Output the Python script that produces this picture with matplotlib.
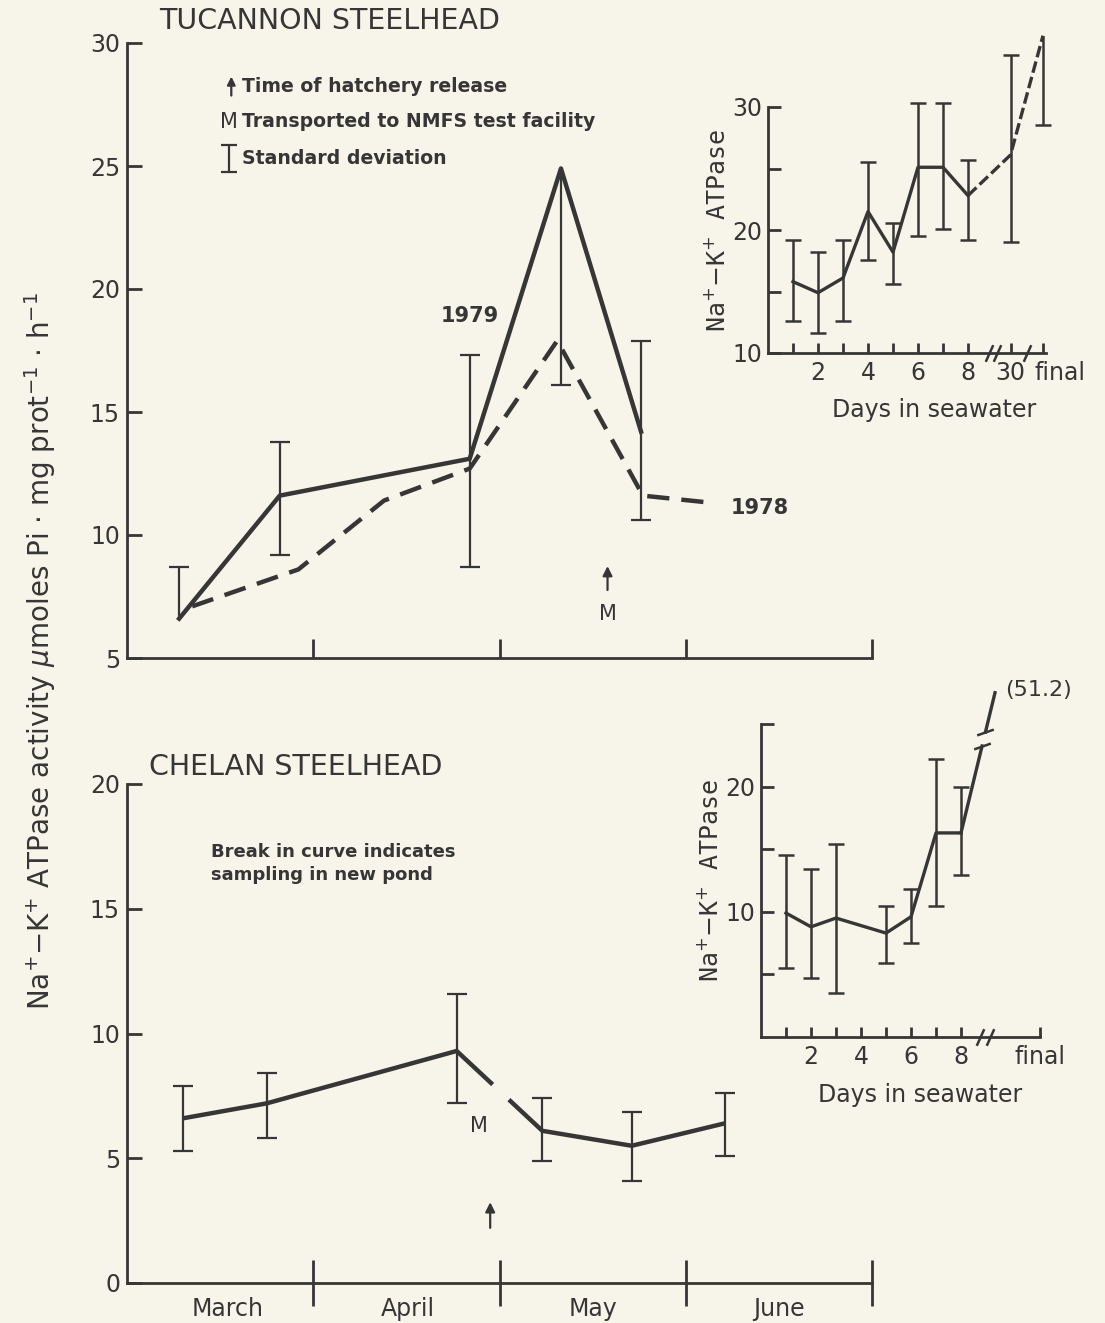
import numpy as np
import matplotlib
matplotlib.use('Agg')
import matplotlib.pyplot as plt
import matplotlib.transforms as mtransforms

plt.rcParams['font.family'] = ['DejaVu Sans']
plt.rcParams['mathtext.fontset'] = 'dejavusans'

# ---- data ----
# main panels: x in months from 1 March (0) to 1 July (4)
months = ['March', 'April', 'May', 'June']

tuc79_x = [0.28, 0.82, 1.84, 2.33, 2.76]
tuc79_y = [6.6, 11.6, 13.1, 24.9, 14.2]
tuc79_lo = [6.6, 9.2, 8.7, 16.1, 10.6]
tuc79_hi = [8.7, 13.8, 17.3, 24.9, 17.9]

tuc78_x = [0.35, 0.92, 1.38, 1.84, 2.31, 2.77, 3.15]
tuc78_y = [7.1, 8.6, 11.4, 12.7, 17.9, 11.6, 11.3]

chel_x = [0.30, 0.75, 1.77, 2.23, 2.71, 3.21]
chel_y = [6.6, 7.2, 9.3, 6.1, 5.5, 6.4]
chel_lo = [5.3, 5.8, 7.2, 4.9, 4.1, 5.1]
chel_hi = [7.9, 8.4, 11.6, 7.4, 6.85, 7.6]
chel_break = 2          # curve broken after this sample (new pond)

release_tuc = 2.58      # hatchery release / transport (M)
release_chel = 1.95

# inset 1 (Tucannon, days in seawater)
ins1_days = [1, 2, 3, 4, 5, 6, 7, 8]
ins1_mean = [15.8, 14.9, 16.1, 21.5, 18.2, 25.1, 25.1, 22.8]
ins1_lo = [12.6, 11.6, 12.6, 17.6, 15.6, 19.5, 20.1, 19.2]
ins1_hi = [19.2, 18.2, 19.2, 25.5, 20.6, 30.3, 30.3, 25.7]
ins1_late_x = [9.7, 11.0]
ins1_late_lab = ['30', 'final']
ins1_late_mean = [26.1, 35.8]
ins1_late_lo = [19.0, 28.5]
ins1_late_hi = [34.2, 35.8]

# inset 2 (Chelan)
ins2_days = [1, 2, 3, 5, 6, 7, 8]
ins2_mean = [9.9, 8.8, 9.5, 8.3, 9.6, 16.3, 16.3]
ins2_lo = [5.5, 4.7, 3.5, 5.9, 7.5, 10.5, 12.9]
ins2_hi = [14.5, 13.4, 15.4, 10.5, 11.8, 22.2, 20.0]
ins2_final_x = 11.16
ins2_final_value = 51.2
ins2_rise_x = [8, 9.36]      # visible part of the line towards the off-scale final value
ins2_rise_y = [16.3, 27.5]

ink = '#363636'
paper = '#f7f4ea'
W, H = 1105, 1323

fig = plt.figure(figsize=(W / 100, H / 100), dpi=100, facecolor=paper)


def px_axes(l, t, r, b):
    ax = fig.add_axes([l / W, 1 - b / H, (r - l) / W, (b - t) / H])
    ax.set_facecolor('none')
    for s in ['top', 'right']:
        ax.spines[s].set_visible(False)
    for s in ['left', 'bottom']:
        ax.spines[s].set_linewidth(2)
        ax.spines[s].set_color(ink)
    return ax


def sd_bars(ax, x, y, lo, hi, cap=14, lw=1.6):
    x, y, lo, hi = map(np.asarray, (x, y, lo, hi))
    ax.vlines(x, lo, hi, color=ink, lw=lw, clip_on=False)
    m = lo < y
    ax.plot(x[m], lo[m], ls='none', marker='_', ms=cap, mew=lw, color=ink, clip_on=False)
    m = hi > y
    ax.plot(x[m], hi[m], ls='none', marker='_', ms=cap, mew=lw, color=ink, clip_on=False)


slash = [(-0.45, -1), (0.45, 1)]

# ---------------- Tucannon main ----------------
ax1 = px_axes(127, 43, 872, 658)
ax1.set_xlim(0, 4)
ax1.set_ylim(5, 30)
ax1.set_yticks([5, 10, 15, 20, 25, 30])
ax1.set_xticks([1, 2, 3, 4])
ax1.set_xticklabels([])
ax1.tick_params(axis='y', direction='in', length=11, width=2, labelsize=17, pad=5,
                color=ink, labelcolor=ink)
ax1.tick_params(axis='x', direction='in', length=14, width=2, color=ink)

ax1.plot(tuc79_x, tuc79_y, color=ink, lw=3.2, solid_joinstyle='round')
ax1.plot(tuc78_x, tuc78_y, color=ink, lw=3.2, dashes=(5, 2.7))
sd_bars(ax1, tuc79_x, tuc79_y, tuc79_lo, tuc79_hi)

ax1.text(0.17, 30.9, 'TUCANNON STEELHEAD', fontsize=20.5, color=ink, va='center')
ax1.text(1.84, 18.9, '1979', fontsize=15, fontweight='bold', color=ink, ha='center', va='center')
ax1.text(3.24, 11.1, '1978', fontsize=15, fontweight='bold', color=ink, ha='left', va='center')
ax1.annotate('', xy=(release_tuc, 8.85), xytext=(release_tuc, 7.65),
             arrowprops=dict(arrowstyle='-|>', color=ink, lw=1.6, mutation_scale=14))
ax1.text(release_tuc, 6.8, 'M', fontsize=15, color=ink, ha='center', va='center')

# key
ax1.annotate('', xy=(0.56, 28.75), xytext=(0.56, 27.75),
             arrowprops=dict(arrowstyle='-|>', color=ink, lw=1.6, mutation_scale=12))
ax1.text(0.62, 28.25, 'Time of hatchery release', fontsize=13.6, fontweight='bold', color=ink, va='center')
ax1.text(0.545, 26.8, 'M', fontsize=15, color=ink, ha='center', va='center')
ax1.text(0.62, 26.8, 'Transported to NMFS test facility', fontsize=13.6, fontweight='bold', color=ink, va='center')
sd_bars(ax1, [0.545], [25.3], [24.76], [25.85], cap=11)
ax1.text(0.62, 25.3, 'Standard deviation', fontsize=13.6, fontweight='bold', color=ink, va='center')

# ---------------- Chelan main ----------------
ax2 = px_axes(127, 784, 872, 1283)
ax2.set_xlim(0, 4)
ax2.set_ylim(0, 20)
ax2.set_yticks([0, 5, 10, 15, 20])
ax2.set_xticks([1, 2, 3, 4])
ax2.set_xticklabels([])
ax2.set_xticks([0.54, 1.51, 2.5, 3.5], minor=True)
ax2.set_xticklabels(months, minor=True)
ax2.tick_params(axis='y', direction='in', length=11, width=2, labelsize=17, pad=5,
                color=ink, labelcolor=ink)
ax2.tick_params(axis='x', which='major', direction='inout', length=33, width=2, color=ink)
ax2.tick_params(axis='x', which='minor', length=0, labelsize=17, pad=10, labelcolor=ink)

cx = np.asarray(chel_x)
cy = np.asarray(chel_y)
i = chel_break
f0, f1 = 0.42, 0.61
g0 = (cx[i] + f0 * (cx[i + 1] - cx[i]), cy[i] + f0 * (cy[i + 1] - cy[i]))
g1 = (cx[i] + f1 * (cx[i + 1] - cx[i]), cy[i] + f1 * (cy[i + 1] - cy[i]))
ax2.plot(np.r_[cx[:i + 1], g0[0]], np.r_[cy[:i + 1], g0[1]], color=ink, lw=3.2, solid_capstyle='butt')
ax2.plot(np.r_[g1[0], cx[i + 1:]], np.r_[g1[1], cy[i + 1:]], color=ink, lw=3.2, solid_capstyle='butt')
sd_bars(ax2, chel_x, chel_y, chel_lo, chel_hi)

ax2.text(0.12, 20.7, 'CHELAN STEELHEAD', fontsize=20.5, color=ink, va='center')
ax2.text(0.45, 16.8, 'Break in curve indicates\nsampling in new pond', fontsize=13,
         fontweight='bold', color=ink, va='center', linespacing=1.35)
ax2.text(1.89, 6.3, 'M', fontsize=15, color=ink, ha='center', va='center')
ax2.annotate('', xy=(release_chel, 3.35), xytext=(release_chel, 2.1),
             arrowprops=dict(arrowstyle='-|>', color=ink, lw=1.6, mutation_scale=14))

fig.text(40 / W, 1 - 651 / H,
         r'Na$^{+}$$-$K$^{+}$ ATPase activity $\mu$moles Pi $\cdot$ mg prot$^{-1}$ $\cdot$ h$^{-1}$',
         rotation=90, fontsize=20, color=ink, ha='center', va='center')

# ---------------- inset 1 ----------------
ins1 = px_axes(768, 107, 768 + 25 * 11.1, 353)
ins1.set_xlim(0, 11.1)
ins1.set_ylim(10, 30)
ins1.set_yticks([10, 15, 20, 25, 30])
ins1.set_yticklabels(['10', '', '20', '', '30'])
ins1.set_xticks(ins1_days + ins1_late_x)
ins1.set_xticklabels(['', '2', '', '4', '', '6', '', '8'] + ins1_late_lab)
ins1.tick_params(axis='y', direction='in', length=9, width=2, labelsize=17, pad=4,
                 color=ink, labelcolor=ink)
ins1.tick_params(axis='x', direction='in', length=7, width=2, labelsize=17, pad=6,
                 color=ink, labelcolor=ink)
# 'final' sits to the right of its tick in the original
shift = mtransforms.ScaledTranslation(17 / 100, 0, fig.dpi_scale_trans)
lab = ins1.get_xticklabels()[-1]
lab.set_transform(lab.get_transform() + shift)
ins1.set_xlabel('Days in seawater', fontsize=17, color=ink)
ins1.xaxis.set_label_coords(0.60, -0.183)
ins1.set_ylabel(r'Na$^{+}$$-$K$^{+}$ ATPase', fontsize=18, color=ink, family='DejaVu Sans Mono',
                labelpad=2)

ins1.plot(ins1_days, ins1_mean, color=ink, lw=2.4)
ins1.plot(np.r_[ins1_days[-1], ins1_late_x], np.r_[ins1_mean[-1], ins1_late_mean],
          color=ink, lw=2.4, dashes=(3.5, 1.3), clip_on=False)
sd_bars(ins1, ins1_days, ins1_mean, ins1_lo, ins1_hi, cap=12, lw=1.8)
sd_bars(ins1, ins1_late_x, ins1_late_mean, ins1_late_lo, ins1_late_hi, cap=12, lw=1.8)
ins1.plot([8.85, 9.15, 10.35], [10, 10, 10], ls='none', marker=slash, ms=12, mew=1.8,
          color=ink, clip_on=False)

# ---------------- inset 2 ----------------
ins2 = px_axes(761, 724, 761 + 25 * ins2_final_x, 1037)
ins2.set_xlim(0, ins2_final_x)
ins2.set_ylim(0, 25)
ins2.set_yticks([5, 10, 15, 20, 25])
ins2.set_yticklabels(['', '10', '', '20', ''])
ins2.set_xticks(list(range(1, 9)) + [ins2_final_x])
ins2.set_xticklabels(['', '2', '', '4', '', '6', '', '8', 'final'])
ins2.tick_params(axis='y', direction='in', length=9, width=2, labelsize=17, pad=4,
                 color=ink, labelcolor=ink)
ins2.tick_params(axis='x', direction='in', length=7, width=2, labelsize=17, pad=6,
                 color=ink, labelcolor=ink)
ins2.set_xlabel('Days in seawater', fontsize=17, color=ink)
ins2.xaxis.set_label_coords(0.57, -0.147)
ins2.set_ylabel(r'Na$^{+}$$-$K$^{+}$ ATPase', fontsize=18, color=ink, family='DejaVu Sans Mono',
                labelpad=2)

ins2.plot(ins2_days, ins2_mean, color=ink, lw=2.4)
rx, ry = np.asarray(ins2_rise_x), np.asarray(ins2_rise_y)
h0, h1 = 0.62, 0.72
ins2.plot([rx[0], rx[0] + h0 * (rx[1] - rx[0])], [ry[0], ry[0] + h0 * (ry[1] - ry[0])],
          color=ink, lw=2.4, clip_on=False)
ins2.plot([rx[0] + h1 * (rx[1] - rx[0]), rx[1]], [ry[0] + h1 * (ry[1] - ry[0]), ry[1]],
          color=ink, lw=2.4, clip_on=False)
brk = [(-1, -0.35), (1, 0.35)]
ins2.plot([rx[0] + h0 * (rx[1] - rx[0]), rx[0] + h1 * (rx[1] - rx[0])],
          [ry[0] + h0 * (ry[1] - ry[0]), ry[0] + h1 * (ry[1] - ry[0])],
          ls='none', marker=brk, ms=12, mew=1.8, color=ink, clip_on=False)
sd_bars(ins2, ins2_days, ins2_mean, ins2_lo, ins2_hi, cap=12, lw=1.8)
ins2.text(9.75, 27.7, '(%.1f)' % ins2_final_value, fontsize=16, color=ink, ha='left', va='center')
ins2.plot([8.75, 9.15], [0, 0], ls='none', marker=slash, ms=12, mew=1.8, color=ink, clip_on=False)

fig.savefig('out.png', dpi=100, facecolor=paper)
